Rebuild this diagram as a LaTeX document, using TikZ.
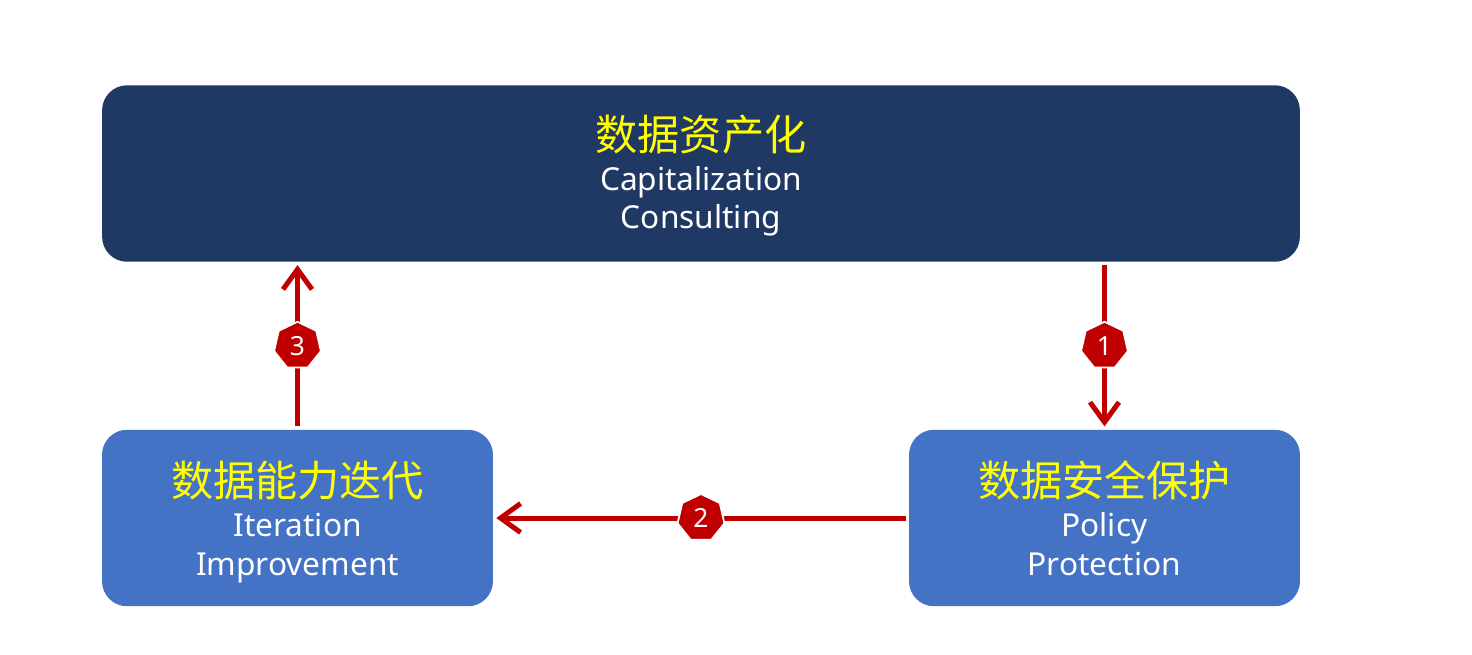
\documentclass[tikz,border=0pt]{standalone}
\usepackage{fontspec}
\setmainfont{Noto Sans}
\newfontfamily\cjk{Noto Sans CJK SC}
\usetikzlibrary{arrows.meta,shapes.geometric}
\definecolor{navy}{HTML}{203864}
\definecolor{steel}{HTML}{4472C4}
\definecolor{darkred}{HTML}{C00000}
\definecolor{titleyellow}{HTML}{FFFF00}
% title line of a card; the optional length pushes the text block down
\newcommand{\cardtitle}[2][0pt]{{\cjk\fontsize{24}{26}\selectfont\color{titleyellow}\rule{0pt}{\dimexpr18.2pt+#1\relax}#2\strut}}

\begin{document}
\begin{tikzpicture}[
    x=0.02cm, y=-0.02cm,
    card/.style={rounded corners=0.5cm, minimum height=3.53cm, align=center, text=white, inner sep=0pt, font=\fontsize{18}{21.6}\selectfont},
    flow/.style={-{Straight Barb[length=0.4cm, width=0.58cm]}, line width=0.1cm, draw=darkred, shorten >=0.06cm, shorten <=0.06cm},
    badge/.style={regular polygon, regular polygon sides=7, minimum size=0.96cm, inner sep=0pt, fill=darkred, draw=white, line width=1pt, text=white, font=\fontsize{15}{15}\selectfont\bfseries}
]
  \useasboundingbox (0,0) rectangle (1472,654);

  \node[card, fill=navy, minimum width=23.96cm] (asset) at (701,173.5)
    {\cardtitle[6.8pt]{数据资产化}\\[-1pt] Capitalization\strut\\ Consulting\strut};
  \node[card, fill=steel, minimum width=7.82cm] (iterate) at (297.5,518)
    {\cardtitle[9.1pt]{数据能力迭代}\\[-1.5pt] Iteration\strut\\[1pt] Improvement\strut};
  \node[card, fill=steel, minimum width=7.82cm] (protect) at (1104.5,518)
    {\cardtitle[9.1pt]{数据安全保护}\\[-1.5pt] Policy\strut\\[1pt] Protection\strut};

  \draw[flow] (asset.south -| protect.north) -- node[badge] (b1) {1} (protect.north);
  \draw[flow] (protect.west) -- node[badge] (b2) {2} (iterate.east);
  \draw[flow] (iterate.north) -- node[badge] (b3) {3} (asset.south -| iterate.north);
\end{tikzpicture}
\end{document}
